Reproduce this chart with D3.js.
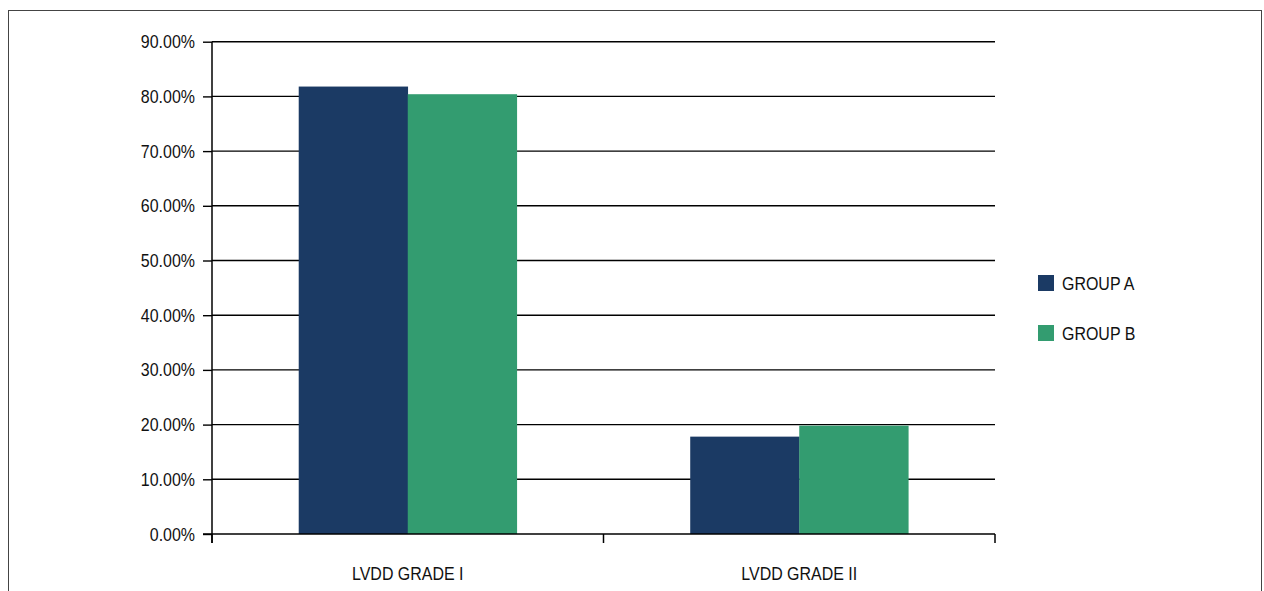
<!DOCTYPE html>
<html><head><meta charset="utf-8">
<script src="https://cdn.jsdelivr.net/npm/d3@7"></script>
<style>body{margin:0;background:#fff}svg{display:block}text{fill:#111}</style>
</head><body><svg id="c" width="1264" height="591"></svg>
<script>
const categories = ["LVDD GRADE I", "LVDD GRADE II"];
const seriesNames = ["GROUP A", "GROUP B"];
const groupA = [81.8, 17.8];
const groupB = [80.4, 19.8];
const yTicks = [0,10,20,30,40,50,60,70,80,90];
const colors = ["#1b3a64", "#339c70"];

(function(){
const svg = d3.select("#c");
const FONT = '"Liberation Sans",Arial,sans-serif', FS = 19, SQUEEZE = 0.84;
function narrow(sel){
  sel.each(function(){
    const n = this.getComputedTextLength();
    d3.select(this).attr("textLength", n*SQUEEZE).attr("lengthAdjust","spacingAndGlyphs");
  });
}

svg.append("rect").attr("x",8.5).attr("y",10.5).attr("width",1253).attr("height",620)
  .attr("fill","none").attr("stroke","#444").attr("stroke-width",1);

const pLeft=212, pRight=995, pTop=41.7, pBottom=534;
const y = d3.scaleLinear().domain([0,90]).range([pBottom,pTop]);
const x = d3.scaleBand().domain(categories).range([pLeft,pRight]).paddingInner(0).paddingOuter(0);
const inner = d3.scaleBand().domain(seriesNames).range([0, x.bandwidth()*0.557]);
const offset = (x.bandwidth() - x.bandwidth()*0.557)/2;

const yAxis = d3.axisLeft(y).tickValues(yTicks).tickSize(9).tickPadding(8)
  .tickFormat(d=>d.toFixed(2)+"%");
const gy = svg.append("g").attr("transform",`translate(${pLeft},0)`).call(yAxis);
gy.select(".domain").remove();
gy.selectAll(".tick line").attr("stroke","#000").attr("stroke-width",1.4);
gy.selectAll(".tick text").attr("font-size",FS).attr("font-family",FONT).attr("fill","#111").call(narrow);
svg.append("g").selectAll("line").data(yTicks.filter(d=>d>0)).join("line")
  .attr("x1",pLeft).attr("x2",pRight).attr("y1",d=>y(d)).attr("y2",d=>y(d))
  .attr("stroke","#000").attr("stroke-width",1.4);

const data = categories.map((c,i)=>({c, vals:[groupA[i], groupB[i]]}));
const g = svg.append("g");
data.forEach(d=>{
  d.vals.forEach((v,j)=>{
    g.append("rect").attr("x", x(d.c)+offset+inner(seriesNames[j]))
      .attr("y", y(v)).attr("width", inner.bandwidth()+0.3).attr("height", y(0)-y(v))
      .attr("fill", colors[j]);
  });
});

svg.append("line").attr("x1",pLeft).attr("x2",pLeft).attr("y1",pTop).attr("y2",pBottom+9)
  .attr("stroke","#000").attr("stroke-width",1.5);
svg.append("line").attr("x1",pLeft-9).attr("x2",pRight).attr("y1",pBottom).attr("y2",pBottom)
  .attr("stroke","#000").attr("stroke-width",1.5);
const xTickPos = [pLeft, ...categories.map(c=>x(c)+x.bandwidth())];
svg.append("g").selectAll("line").data(xTickPos).join("line")
  .attr("x1",d=>d).attr("x2",d=>d).attr("y1",pBottom).attr("y2",pBottom+9)
  .attr("stroke","#000").attr("stroke-width",1.5);
svg.append("g").selectAll("text").data(categories).join("text")
  .attr("x",c=>x(c)+x.bandwidth()/2).attr("y",573).attr("dy","0.35em").attr("text-anchor","middle")
  .attr("font-family",FONT).attr("font-size",FS).text(c=>c).call(narrow);

const lg = svg.append("g");
seriesNames.forEach((s,i)=>{
  lg.append("rect").attr("x",1038).attr("y",275+i*50).attr("width",16).attr("height",16).attr("fill",colors[i]);
  lg.append("text").attr("x",1062).attr("y",283+i*50).attr("dy","0.35em")
    .attr("font-family",FONT).attr("font-size",FS).text(s).call(narrow);
});
})();
</script></body></html>
